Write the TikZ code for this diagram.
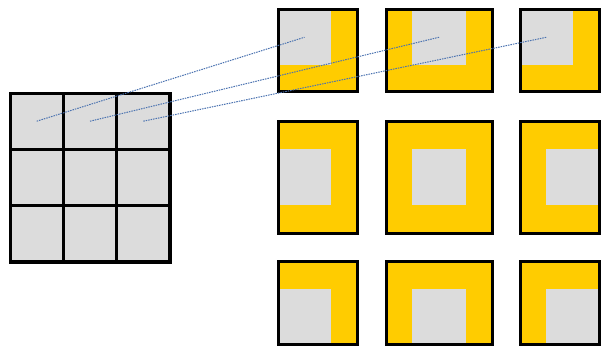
\documentclass[tikz,border=0pt]{standalone}
\definecolor{cellgray}{HTML}{DCDCDC}
\definecolor{padyellow}{HTML}{FFCC00}
\definecolor{linkblue}{HTML}{4A72B0}
\tikzset{
  cellbox/.style={draw=black, fill=cellgray, line width=3pt, rectangle, inner sep=0pt, outer sep=0pt, minimum width=53.33pt, minimum height=56.33pt},
  graysq/.style={fill=cellgray, rectangle, inner sep=0pt, outer sep=0pt},
  outline/.style={draw=black, line width=3pt},
  linkline/.style={draw=linkblue, line width=1pt, dash pattern=on 1.5pt off 1pt}
}
\begin{document}
\begin{tikzpicture}[x=1pt, y=-1pt]
\useasboundingbox (0,0) rectangle (601,346);
% left 3x3 grid
\foreach \r/\yc in {1/121.2, 2/177.5, 3/233.8}{
  \foreach \c/\xc in {1/36.7, 2/90, 3/143.3}{
    \node[cellbox] (g\r\c) at (\xc,\yc) {};
  }
}
\draw[outline] (10,93) rectangle (170,262);
% right boxes: yellow backgrounds
\fill[padyellow] (278.5,9.5) rectangle (357.5,91.5);
\fill[padyellow] (386.5,9.5) rectangle (492.5,91.5);
\fill[padyellow] (520.5,9.5) rectangle (599.5,91.5);
\fill[padyellow] (278.5,121) rectangle (357.5,233.5);
\fill[padyellow] (386.5,121) rectangle (492.5,233.5);
\fill[padyellow] (520.5,121) rectangle (599.5,233.5);
\fill[padyellow] (278.5,261) rectangle (357.5,344.5);
\fill[padyellow] (386.5,261) rectangle (492.5,344.5);
\fill[padyellow] (520.5,261) rectangle (599.5,344.5);
% gray inner squares
\node[graysq, minimum width=53pt, minimum height=55.5pt] (s11) at (304.5,37.25) {};
\node[graysq, minimum width=54pt, minimum height=55.5pt] (s12) at (439,37.25) {};
\node[graysq, minimum width=53pt, minimum height=55.5pt] (s13) at (546.5,37.25) {};
\node[graysq, minimum width=53pt, minimum height=56pt] (s21) at (304.5,177) {};
\node[graysq, minimum width=54pt, minimum height=56pt] (s22) at (439,177) {};
\node[graysq, minimum width=54pt, minimum height=56pt] (s23) at (573,177) {};
\node[graysq, minimum width=53pt, minimum height=56pt] (s31) at (304.5,317) {};
\node[graysq, minimum width=54pt, minimum height=56pt] (s32) at (439,317) {};
\node[graysq, minimum width=54pt, minimum height=56pt] (s33) at (573,317) {};
% outlines
\draw[outline] (278.5,9.5) rectangle (357.5,91.5);
\draw[outline] (386.5,9.5) rectangle (492.5,91.5);
\draw[outline] (520.5,9.5) rectangle (599.5,91.5);
\draw[outline] (278.5,121) rectangle (357.5,233.5);
\draw[outline] (386.5,121) rectangle (492.5,233.5);
\draw[outline] (520.5,121) rectangle (599.5,233.5);
\draw[outline] (278.5,261) rectangle (357.5,344.5);
\draw[outline] (386.5,261) rectangle (492.5,344.5);
\draw[outline] (520.5,261) rectangle (599.5,344.5);
% links
\draw[linkline] (g11.center) -- (s11.center);
\draw[linkline] (g12.center) -- (s12.center);
\draw[linkline] (g13.center) -- (s13.center);
\end{tikzpicture}
\end{document}
